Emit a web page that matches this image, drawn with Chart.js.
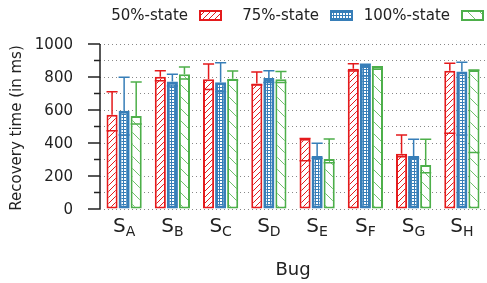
<!DOCTYPE html>
<html>
<head>
<meta charset="utf-8">
<script src="https://cdn.jsdelivr.net/npm/chart.js@4"></script>
<style>
  body { margin: 0; background: #fff; }
  canvas { display: block; }
</style>
</head>
<body>
<canvas id="recChart" width="487" height="283"></canvas>
<script>
// Bugs (x axis, drawn as S with a subscript letter)
const bugs = ['A', 'B', 'C', 'D', 'E', 'F', 'G', 'H'];
const seriesNames = ['50%-state', '75%-state', '100%-state'];

// mean recovery time (ms)
const state50 = [571, 802, 786, 760, 426, 850, 335, 838];
const state75 = [596, 772, 768, 794, 321, 873, 321, 834];
const state100 = [564, 816, 790, 786, 303, 862, 267, 842];

// error bar low / high ends
const state50Low = [475, 778, 725, 752, 293, 836, 317, 459];
const state50High = [711, 838, 879, 830, 428, 881, 448, 883];
const state75Low = [448, 745, 711, 766, 307, 806, 307, 448];
const state75High = [798, 816, 887, 838, 398, 877, 422, 889];
const state100Low = [515, 788, 780, 766, 281, 847, 220, 343];
const state100High = [770, 861, 836, 834, 424, 862, 422, 842];

const yTicks = [0, 200, 400, 600, 800, 1000];

const RED = '#e41a1c', BLUE = '#377eb8', GREEN = '#4daf4a';
const FONT = '"DejaVu Sans", sans-serif';

function makePattern(kind) {
    const c = document.createElement('canvas');
    const g = c.getContext('2d');
    if (kind === 'red') {
        c.width = c.height = 6;
        g.fillStyle = '#fff'; g.fillRect(0, 0, 6, 6);
        g.strokeStyle = RED; g.lineWidth = 1;
        for (let i = -1; i <= 1; i++) {
            g.beginPath(); g.moveTo(i * 6, 6); g.lineTo(i * 6 + 6, 0); g.stroke();
        }
    } else if (kind === 'blue') {
        c.width = c.height = 3;
        g.fillStyle = BLUE; g.fillRect(0, 0, 3, 3);
        g.fillStyle = '#fff';
        g.fillRect(1, 1, 2, 2);
    } else {
        c.width = c.height = 12;
        g.fillStyle = '#fff'; g.fillRect(0, 0, 12, 12);
        g.strokeStyle = 'rgba(77,175,74,0.8)'; g.lineWidth = 1;
        for (let i = -1; i <= 1; i++) {
            g.beginPath(); g.moveTo(i * 12, 0); g.lineTo(i * 12 + 12, 12); g.stroke();
        }
    }
    return g.createPattern(c, 'repeat');
}

const patterns = [makePattern('red'), makePattern('blue'), makePattern('green')];
const colors = [RED, BLUE, GREEN];
const errLow = [state50Low, state75Low, state100Low];
const errHigh = [state50High, state75High, state100High];

// error bars, axis ticks, labels and legend drawn on top
const extras = {
    id: 'extras',
    afterDatasetsDraw(chart) {
        const ctx = chart.ctx;
        const y = chart.scales.y;
        const x = chart.scales.x;
        const area = chart.chartArea;
        ctx.save();

        // error bars
        chart.data.datasets.forEach((ds, i) => {
            const meta = chart.getDatasetMeta(i);
            ctx.strokeStyle = colors[i];
            ctx.lineWidth = 1.5;
            meta.data.forEach((bar, j) => {
                const yv = y.getPixelForValue(ds.data[j]);
                const yh = y.getPixelForValue(errHigh[i][j]);
                const yl = y.getPixelForValue(errLow[i][j]);
                const hw = bar.width / 2;
                ctx.beginPath();
                ctx.moveTo(bar.x, yv); ctx.lineTo(bar.x, yh);
                ctx.moveTo(bar.x - hw, yh); ctx.lineTo(bar.x + hw, yh);
                ctx.moveTo(bar.x - hw, yl); ctx.lineTo(bar.x + hw, yl);
                ctx.stroke();
            });
        });

        // y axis line and ticks
        ctx.strokeStyle = '#222';
        ctx.lineWidth = 1.5;
        ctx.beginPath();
        ctx.moveTo(area.left, area.top); ctx.lineTo(area.left, area.bottom);
        for (let v = 0; v <= 1000; v += 100) {
            const py = y.getPixelForValue(v);
            const len = yTicks.includes(v) ? 12 : 6;
            ctx.moveTo(area.left - len, py); ctx.lineTo(area.left, py);
        }
        ctx.stroke();

        // y tick labels
        ctx.fillStyle = '#222';
        ctx.font = '15px ' + FONT;
        ctx.textAlign = 'right';
        ctx.textBaseline = 'middle';
        yTicks.forEach(v => ctx.fillText(String(v), 73, y.getPixelForValue(v) + 1));

        // x labels S with subscript
        ctx.textBaseline = 'alphabetic';
        bugs.forEach((b, j) => {
            const cx = x.getPixelForValue(j);
            ctx.font = '20px ' + FONT;
            const wS = ctx.measureText('S').width;
            ctx.font = '14px ' + FONT;
            const wB = ctx.measureText(b).width;
            const x0 = cx - (wS + wB) / 2;
            ctx.font = '20px ' + FONT;
            ctx.textAlign = 'left';
            ctx.fillText('S', x0, 232);
            ctx.font = '14px ' + FONT;
            ctx.fillText(b, x0 + wS, 236);
        });

        // axis titles
        ctx.textAlign = 'center';
        ctx.textBaseline = 'middle';
        ctx.font = '18px ' + FONT;
        ctx.fillText('Bug', (area.left + area.right) / 2, 270);
        ctx.save();
        ctx.translate(17, 128);
        ctx.rotate(-Math.PI / 2);
        ctx.font = '15px ' + FONT;
        ctx.fillText('Recovery time (in ms)', 0, 0);
        ctx.restore();

        // legend: text then swatch
        const textRight = [188, 319, 450];
        ctx.font = '15px ' + FONT;
        ctx.textAlign = 'right';
        ctx.textBaseline = 'middle';
        seriesNames.forEach((name, i) => {
            ctx.fillStyle = '#222';
            ctx.fillText(name, textRight[i], 16);
            const bx = textRight[i] + 11;
            ctx.fillStyle = patterns[i];
            ctx.fillRect(bx, 10, 23, 11);
            ctx.strokeStyle = colors[i];
            ctx.lineWidth = 2;
            ctx.strokeRect(bx + 1, 11, 21, 9);
        });

        ctx.restore();
    }
};

const datasets = [state50, state75, state100].map((vals, i) => ({
    label: seriesNames[i],
    data: vals,
    backgroundColor: patterns[i],
    borderColor: colors[i],
    borderWidth: i === 1 ? 3 : 2,
    borderSkipped: false,
    categoryPercentage: 0.75,
    barPercentage: 0.92
}));

new Chart(document.getElementById('recChart').getContext('2d'), {
    type: 'bar',
    data: { labels: bugs, datasets: datasets },
    options: {
        responsive: false,
        animation: false,
        layout: { padding: { top: 44, right: 1, left: 0, bottom: 0 } },
        plugins: { legend: { display: false }, tooltip: { enabled: false } },
        scales: {
            x: {
                grid: { display: false },
                border: { display: false },
                ticks: { display: false },
                afterFit(scale) { scale.height = 74; }
            },
            y: {
                min: 0,
                max: 1000,
                grid: { color: '#888', drawTicks: false, lineWidth: 1 },
                border: { display: false, dash: [1, 3] },
                ticks: { stepSize: 100, display: false },
                afterFit(scale) { scale.width = 100; }
            }
        }
    },
    plugins: [extras]
});
</script>
</body>
</html>
